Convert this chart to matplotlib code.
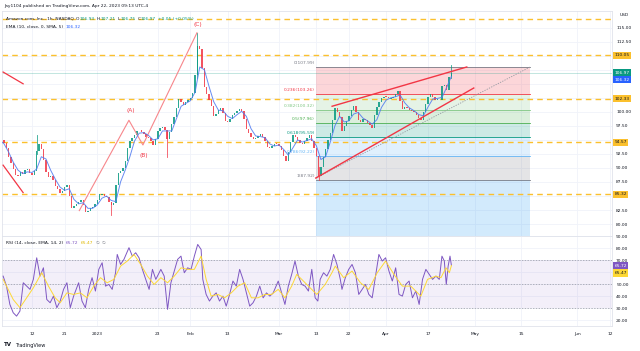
import matplotlib.pyplot as plt
import numpy as np

# x axis = trading-day index counted from Dec 12 2022 (1h chart, sessions only)
tick_pos = [0, 7, 14, 27, 34, 42, 53, 61, 68, 76, 85, 95, 105, 117, 124]
tick_lbl = ['12', '21', '2023', '23', 'Feb', '13', 'Mar', '13', '22', 'Apr', '17', 'May', '15', 'Jun', '12']

# price closes read every half day, first one at day -7.0
close_start = -7.0
closes = [95.3, 95.0, 94.5, 93.6, 92.0, 90.8, 89.8, 88.8, 88.6, 89.2,
          89.0, 89.6, 89.8, 89.1, 88.7, 89.5, 93.0, 94.2, 93.4, 91.5,
          89.2, 88.4, 88.6, 87.8, 86.8, 86.2, 85.5, 85.9, 86.6, 87.0,
          85.0, 82.8, 83.2, 83.6, 84.0, 84.3, 83.4, 82.2, 82.4, 82.8,
          83.0, 83.6, 84.2, 85.3, 85.4, 85.0, 84.8, 84.0, 83.4, 83.8,
          87.0, 89.1, 89.5, 90.0, 91.2, 93.6, 94.8, 95.4, 95.8, 96.6,
          96.7, 96.4, 96.0, 95.6, 95.4, 94.8, 94.1, 95.2, 96.6, 97.1,
          97.3, 96.8, 95.2, 96.4, 97.8, 99.0, 100.6, 102.3, 101.8, 101.2,
          101.7, 102.2, 102.5, 103.3, 106.5, 111.8, 111.2, 107.8, 104.4, 103.2,
          102.2, 101.0, 99.3, 99.7, 100.3, 100.6, 99.8, 98.4, 98.2, 98.7,
          99.4, 99.8, 100.1, 100.5, 100.2, 98.8, 97.0, 96.3, 95.6, 95.1,
          95.3, 95.7, 96.1, 95.6, 94.8, 93.8, 93.6, 93.9, 94.3, 94.2,
          93.9, 93.2, 92.2, 91.3, 92.8, 94.6, 95.8, 95.5, 95.0, 94.4,
          94.2, 94.8, 95.4, 95.8, 94.8, 93.6, 92.2, 88.6, 90.2, 92.0,
          93.4, 95.0, 96.3, 98.6, 100.6, 100.0, 99.0, 96.6, 97.4, 98.4,
          99.3, 100.4, 101.1, 100.0, 98.6, 98.2, 98.8, 98.5, 98.0, 97.6,
          97.2, 99.4, 100.8, 101.8, 102.5, 102.7, 102.6, 102.4, 102.4, 102.7,
          103.2, 103.8, 102.0, 100.5, 100.9, 100.7, 100.3, 100.1, 99.9, 99.5,
          98.9, 98.6, 100.0, 101.4, 102.6, 103.2, 102.6, 102.1, 102.3, 102.2,
          104.6, 104.8, 103.9, 106.2, 106.97]

# visible long wicks
wick_x = [1.0, 17.0, 29.0, 35.5, 61.5, 90.0]
wick_hi = [95.9, 84.0, 96.5, 114.1, 90.2, 108.3]
wick_lo = [92.5, 81.6, 92.0, 106.0, 87.92, 106.0]

# EMA(10) smoothed, one value per day from day -7
ema_start = -7
ema = [95.0, 94.3, 92.8, 91.0, 89.6, 89.0, 89.3, 89.2, 89.8, 92.0,
       91.6, 89.6, 88.0, 86.6, 86.0, 86.3, 84.4, 83.6, 83.8, 82.8,
       82.8, 83.4, 84.6, 85.0, 84.2, 84.0, 87.5, 89.6, 92.0, 94.8,
       96.2, 96.3, 95.8, 95.0, 95.2, 96.6, 96.6, 96.6, 98.8, 101.0,
       101.5, 102.0, 103.5, 108.0, 107.5, 104.5, 101.8, 100.3, 100.2, 99.2,
       98.8, 99.5, 100.1, 99.2, 97.0, 95.7, 95.6, 95.4, 94.3, 93.9,
       94.1, 93.3, 92.3, 93.6, 95.0, 94.6, 94.9, 95.2, 94.0, 91.5,
       92.0, 94.6, 97.5, 99.2, 98.2, 98.4, 99.6, 99.9, 98.9, 98.4,
       97.8, 98.6, 100.8, 102.1, 102.5, 102.7, 103.0, 101.6, 100.7, 100.2,
       99.5, 99.3, 100.9, 102.3, 102.4, 102.6, 104.4, 106.32]

# RSI(14)
rsi_x = [-6.19, -5.47, -4.75, -4.03, -3.31, -2.59, -1.87, -1.15, -0.43, 0.29,
         1.01, 1.73, 2.45, 3.17, 3.89, 4.61, 5.33, 6.05, 6.77, 7.49,
         8.21, 8.93, 10.01, 10.73, 11.45, 12.17, 12.89, 13.61, 14.33, 15.05,
         15.77, 16.49, 17.21, 17.93, 18.29, 19.01, 19.73, 20.81, 21.53, 22.25,
         22.97, 23.69, 24.41, 25.13, 25.85, 26.57, 27.65, 28.37, 29.09, 29.81,
         30.53, 31.25, 31.97, 32.68, 33.40, 34.13, 34.84, 35.56, 36.29, 36.65,
         37.37, 38.08, 38.80, 39.52, 40.24, 40.97, 41.68, 42.40, 43.12, 43.84,
         44.56, 45.28, 46.00, 46.72, 47.44, 48.16, 48.88, 49.60, 50.32, 51.04,
         51.76, 52.84, 53.56, 54.28, 55.00, 55.72, 56.44, 57.16, 57.88, 58.60,
         59.32, 60.04, 60.76, 61.34, 61.84, 62.56, 63.28, 64.00, 64.72, 65.44,
         66.16, 66.52, 67.24, 67.96, 68.68, 69.40, 70.12, 70.84, 71.56, 72.28,
         73.00, 73.72, 74.44, 75.16, 75.88, 76.60, 77.32, 78.04, 78.76, 79.48,
         80.20, 80.92, 81.64, 82.36, 83.08, 83.80, 84.52, 85.24, 85.96, 86.68,
         87.40, 87.97, 88.48, 88.90, 89.30, 89.70, 90.00]
rsi = [56.7, 48.4, 33.2, 26.3, 23.5, 27.7, 51.2, 48.4, 45.7, 54.0,
       71.9, 56.7, 63.6, 37.3, 34.6, 40.1, 30.5, 36.0, 45.7, 51.2,
       30.5, 40.1, 51.2, 36.0, 30.5, 45.7, 55.4, 44.3, 62.3, 67.8,
       48.4, 49.8, 45.7, 59.5, 74.7, 66.4, 70.6, 80.3, 73.3, 76.1,
       71.9, 62.3, 54.0, 45.7, 62.3, 54.0, 62.3, 56.7, 29.1, 51.2,
       60.9, 70.6, 73.3, 59.5, 63.6, 62.3, 73.3, 83.0, 78.8, 54.0,
       41.5, 36.0, 40.1, 42.8, 36.0, 40.1, 31.8, 41.5, 52.6, 48.4,
       62.3, 54.0, 42.8, 31.8, 34.6, 40.1, 48.4, 38.7, 42.8, 40.1,
       42.8, 52.6, 42.8, 33.2, 48.4, 58.1, 69.2, 56.7, 49.8, 48.4,
       44.3, 62.3, 38.7, 36.0, 54.0, 59.5, 56.7, 62.3, 74.7, 66.4,
       54.0, 45.7, 55.4, 62.3, 66.4, 59.5, 41.5, 45.7, 49.8, 41.5,
       38.7, 56.7, 74.7, 69.2, 71.9, 60.9, 52.6, 63.6, 41.5, 40.1,
       49.8, 52.6, 38.7, 44.3, 33.2, 54.0, 62.3, 58.1, 54.0, 56.7,
       54.0, 73.3, 69.2, 49.8, 65.0, 73.3, 65.72]

# RSI-based EMA(14)
ma_x = [-6.19, -4.03, -2.59, -1.15, 0.29, 2.09, 3.53, 4.97, 6.05, 7.49,
        8.93, 10.37, 11.81, 13.25, 14.69, 16.13, 17.57, 19.01, 20.45, 21.89,
        23.33, 24.77, 26.21, 27.65, 29.09, 30.53, 31.97, 33.40, 34.84, 36.29,
        37.37, 38.44, 39.88, 41.32, 42.76, 44.20, 45.64, 47.08, 48.52, 49.96,
        51.40, 52.84, 54.28, 55.72, 56.80, 57.88, 59.32, 61.12, 62.92, 64.36,
        65.08, 66.88, 68.68, 70.48, 72.28, 74.08, 75.88, 77.68, 79.48, 81.28,
        83.44, 84.88, 86.68, 87.76, 88.84, 89.56, 90.00]
ma = [54.0, 37.3, 30.5, 38.7, 47.0, 59.5, 48.4, 38.7, 34.6, 42.8,
      41.5, 42.8, 38.7, 48.4, 55.4, 51.2, 54.0, 65.0, 69.2, 74.7,
      66.4, 56.7, 49.8, 55.4, 51.2, 56.7, 63.6, 62.3, 62.3, 73.3,
      54.0, 40.1, 41.5, 38.7, 42.8, 48.4, 51.2, 38.7, 38.7, 41.5,
      41.5, 45.7, 38.7, 48.4, 58.1, 54.0, 48.4, 41.5, 49.8, 59.5,
      65.0, 55.4, 60.9, 51.2, 45.7, 59.5, 69.2, 58.1, 48.4, 48.4,
      40.1, 54.0, 56.7, 55.4, 63.6, 59.5, 65.47]

# fib retracement from the Mar 13 low to the Apr 21 high
fib_names = ['0', '0.236', '0.382', '0.5', '0.618', '0.786', '1', '1.618']
fib_price = [107.99, 103.26, 100.32, 97.96, 95.59, 92.22, 87.92, 75.52]
fib_color = ['#787b86', '#f23645', '#81c784', '#4caf50', '#089981', '#64b5f6', '#787b86', '#2196f3']
fib_left, fib_right = 61.0, 106.9

# horizontal support / resistance
levels = [116.6, 110.05, 102.33, 94.57, 85.32]

# ABC wave
wave_x = [10.15, 20.8, 23.8, 35.4]
wave_y = [82.4, 98.5, 94.1, 114.1]
wave_lbl = ['(A)', '(B)', '(C)']
wave_lbl_y = [100.2, 92.2, 115.6]

# price scale labels that the tags hide
hidden_price = [110.0, 107.5, 105.0, 102.5, 95.0, 85.0]
hidden_rsi = [60]

UP, DN = '#089981', '#f23645'
TXT = '#131722'
FS = 3.2

W, H = 640, 351
fig = plt.figure(figsize=(6.4, 3.51), dpi=100)
fig.patch.set_facecolor('white')


def fx(px):
    return px / W


def fy(py):
    return 1 - py / H


ax = fig.add_axes([fx(2), fy(236), 610 / W, 225 / H])
ax2 = fig.add_axes([fx(2), fy(326), 610 / W, 90 / H], sharex=ax)

xmin, xmax = (2 - 32) / 4.66, (612 - 32) / 4.66
ax.set_xlim(xmin, xmax)
ax.set_ylim(77.87, 117.98)
ax2.set_ylim(15.3, 89.9)

for a in (ax, ax2):
    for s in a.spines.values():
        s.set_color('#e0e3eb')
        s.set_linewidth(0.6)
    a.yaxis.tick_right()
    a.tick_params(axis='both', length=0, labelsize=FS, colors=TXT, pad=3)
    a.grid(color='#f0f3fa', lw=0.6, zorder=0)
    a.set_axisbelow(True)

ax.set_xticks(tick_pos)
ax2.set_xticklabels(tick_lbl)
ax.tick_params(axis='x', labelbottom=False)
ax2.tick_params(axis='x', pad=4)

pt = np.arange(80, 116, 2.5)
ax.set_yticks(pt)
ax.set_yticklabels(['' if v in hidden_price else '%.2f' % v for v in pt])
rt = np.arange(20, 91, 10)
ax2.set_yticks(rt)
ax2.set_yticklabels(['' if v in hidden_rsi else '%.2f' % v for v in rt])

# fib zones
for i in range(1, len(fib_price)):
    ax.fill_between([fib_left, fib_right], fib_price[i - 1], fib_price[i],
                    color=fib_color[i], alpha=0.2, lw=0, zorder=1)
for i in range(len(fib_price)):
    ax.plot([fib_left, fib_right], [fib_price[i]] * 2, color=fib_color[i], lw=0.6, zorder=1.5)
    if i < 7:
        ax.text(fib_left - 0.3, fib_price[i] + 0.35, '%s(%.2f)' % (fib_names[i], fib_price[i]),
                color=fib_color[i], fontsize=FS, ha='right', va='bottom', zorder=4)

# dashed yellow levels
for lv in levels:
    ax.axhline(lv, color='#fbc02d', lw=1.0, dashes=(4, 3), zorder=2)

# last price line
ax.axhline(closes[-1], color=UP, lw=0.5, alpha=0.35, zorder=2)

# candles
xs = [close_start + 0.5 * k for k in range(len(closes))]
for k in range(1, len(closes)):
    o, c = closes[k - 1], closes[k]
    col = UP if c >= o else DN
    ax.bar(xs[k], c - o if abs(c - o) > 0.15 else 0.15, bottom=o if abs(c - o) > 0.15 else o - 0.075,
           width=0.3, color=col, lw=0, alpha=0.85, zorder=3)
for x, hi, lo in zip(wick_x, wick_hi, wick_lo):
    col = UP if x in (1.0, 35.5, 90.0) else DN
    ax.plot([x, x], [lo, hi], color=col, lw=0.6, alpha=0.85, zorder=3)

# EMA
ax.plot(range(ema_start, ema_start + len(ema)), ema, color='#4d78f0', lw=0.7, alpha=0.85, zorder=3.5)

# ABC wave
ax.plot(wave_x, wave_y, color='#f7868b', lw=0.8, zorder=3.2)
for x, y, s in zip(wave_x[1:], wave_lbl_y, wave_lbl):
    ax.text(x + 0.3, y, s, color=DN, fontsize=FS + 1.0, ha='center', va='center', zorder=4)

# red trend lines
ax.plot([-6.2, -1.9], [107.1, 105.0], color=DN, lw=0.9, zorder=3.2)
ax.plot([-6.2, -1.9], [90.5, 85.6], color=DN, lw=0.9, zorder=3.2)
ax.plot([64.4, 93.3], [101.0, 108.0], color=DN, lw=1.0, zorder=3.6)
ax.plot([60.9, 94.8], [88.2, 104.25], color=DN, lw=1.0, zorder=3.6)
ax.plot([60.9, 106.9], [88.2, 108.0], color='#9598a1', lw=0.6, ls=(0, (1.5, 1.5)), zorder=3.1)


def tag(a, y, s, bg, fg):
    a.text(1.004, y, s, transform=a.get_yaxis_transform(), fontsize=FS, color=fg,
           ha='left', va='center', clip_on=False, zorder=6,
           bbox=dict(boxstyle='square,pad=0.35', fc=bg, ec='none'))


for lv in levels[1:]:
    tag(ax, lv, '%.2f' % lv, '#fbc02d', TXT)
tag(ax, 106.97, '106.97', UP, 'white')
tag(ax, 105.75, '106.32', '#2962ff', 'white')

# RSI pane
ax2.axhspan(30, 70, color='#7e57c2', alpha=0.09, lw=0, zorder=1)
for lv in (70, 50, 30):
    ax2.axhline(lv, color='#9598a1', lw=0.5, dashes=(2, 2), zorder=1.5)
ax2.plot(rsi_x, rsi, color='#7e57c2', lw=0.7, zorder=3)
ax2.plot(ma_x, ma, color='#fdd835', lw=0.7, zorder=3.2)
tag(ax2, 65.2, '65.72', '#7e57c2', 'white')
tag(ax2, 59.3, '65.47', '#fdd835', TXT)


def chain(px, py, parts, size=FS, weight='normal'):
    # parts: (text, colour, gap in px after it)
    r = fig.canvas.get_renderer()
    x = fx(px)
    for s, c, gap in parts:
        t = fig.text(x, fy(py), s, color=c, fontsize=size, va='center', ha='left', weight=weight)
        bb = t.get_window_extent(renderer=r)
        x = (bb.x1 + gap) / fig.bbox.width


chain(4, 6, [('Jay1104 published on TradingView.com, Apr 22, 2023 09:13 UTC-4', TXT, 0)])
chain(6, 19, [('Amazon.com, Inc., 1h, NASDAQ', TXT, 2.5), ('O', TXT, 0.3), ('106.93', UP, 2), ('H', TXT, 0.3),
              ('107.21', UP, 2), ('L', TXT, 0.3), ('106.75', UP, 2), ('C', TXT, 0.3), ('106.97', UP, 2),
              ('+0.05 (+0.05%)', UP, 0)])
chain(6, 27, [('EMA (10, close, 0, SMA, 5)', TXT, 2.5), ('106.32', '#2962ff', 0)])
chain(6, 243, [('RSI (14, close, EMA, 14, 2)', TXT, 2.5), ('65.72', '#7e57c2', 2.5), ('65.47', '#e0b800', 2.5),
               ('\u2205', '#787b86', 2.5), ('\u2205', '#787b86', 0)])
fig.text(fx(620), fy(15), 'USD', fontsize=FS, color=TXT, va='center')
chain(4, 345, [('TV', TXT, 0)], size=FS + 0.8, weight='bold')
fig.text(fx(15), fy(345), 'TradingView', fontsize=FS + 0.4, color=TXT, va='center')

fig.savefig('out.png', dpi=100)
